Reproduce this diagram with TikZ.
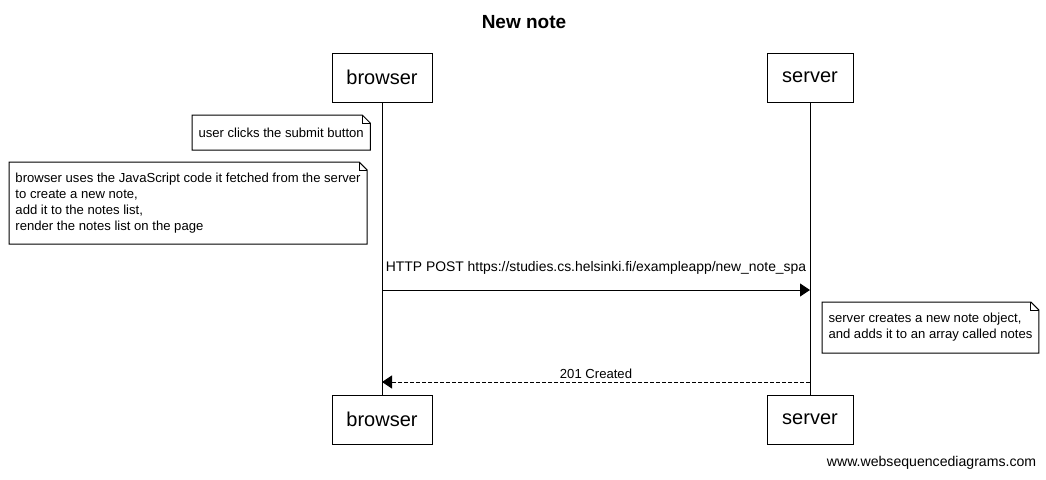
\documentclass[tikz,border=0pt]{standalone}
\usepackage{fontspec}
\setmainfont{Liberation Sans}
\usetikzlibrary{arrows.meta}
\usetikzlibrary{calc}

\begin{document}
\begin{tikzpicture}[x=1pt,y=-1pt,line width=1pt,
  actor/.style={draw,minimum height=49pt,inner sep=0pt,font=\fontsize{20}{24}\selectfont},
  note/.style={anchor=north west,align=left,inner xsep=6pt,inner ysep=0pt,font=\fontsize{13.1}{16}\selectfont},
  msg/.style={-{Triangle[length=10pt,width=13pt]}},
  reply/.style={msg,dash pattern=on 4pt off 2pt}]
\useasboundingbox (0,0) rectangle (1046,479);
\node (title) at (524,22) {\fontsize{19}{22}\selectfont\bfseries New note};
\node (browser0) at (382,77.5) [actor,minimum width=100pt] {browser};
\node (server0) at (810,77.5) [actor,minimum width=86pt] {server};
\node (browser1) at (382,419.5) [actor,minimum width=100pt] {browser};
\node (server1) at (810,419.5) [actor,minimum width=86pt] {server};
\foreach \p in {browser,server} {
\draw (\p0.south) -- (\p1.north);
}
\node (n1) at (192,115) [note,minimum height=34pt] {user clicks the submit button};
\node (n2) at (9,162) [note,minimum height=81pt] {browser uses the JavaScript code it fetched from the server\\to create a new note,\\add it to the notes list,\\render the notes list on the page};
\node (n3) at (822,302) [note,minimum height=50pt] {server creates a new note object,\\and adds it to an array called notes};
\foreach \n in {n1,n2,n3} {
\draw (\n.north west) -- ([xshift=-8pt]\n.north east) -- ([yshift=-8pt]\n.north east) -- (\n.south east) -- (\n.south west) -- cycle;
\draw ([xshift=-8pt]\n.north east) |- ([yshift=-8pt]\n.north east);
}
\coordinate (post0) at (browser0 |- 0,290);
\coordinate (post1) at (server0 |- 0,290);
\coordinate (resp0) at (server0 |- 0,382);
\coordinate (resp1) at (browser0 |- 0,382);
\draw[msg] (post0) -- node[above=15pt,inner sep=0pt,font=\fontsize{13.9}{16}\selectfont] {HTTP POST https://studies.cs.helsinki.fi/exampleapp/new\_note\_spa} (post1);
\draw[reply] (resp0) -- node[above=3pt,inner sep=0pt,font=\fontsize{13.1}{15}\selectfont] {201 Created} (resp1);
\node (wsd) at (1040,463) [anchor=east,font=\fontsize{14.1}{16}\selectfont] {www.websequencediagrams.com};
\end{tikzpicture}
\end{document}
